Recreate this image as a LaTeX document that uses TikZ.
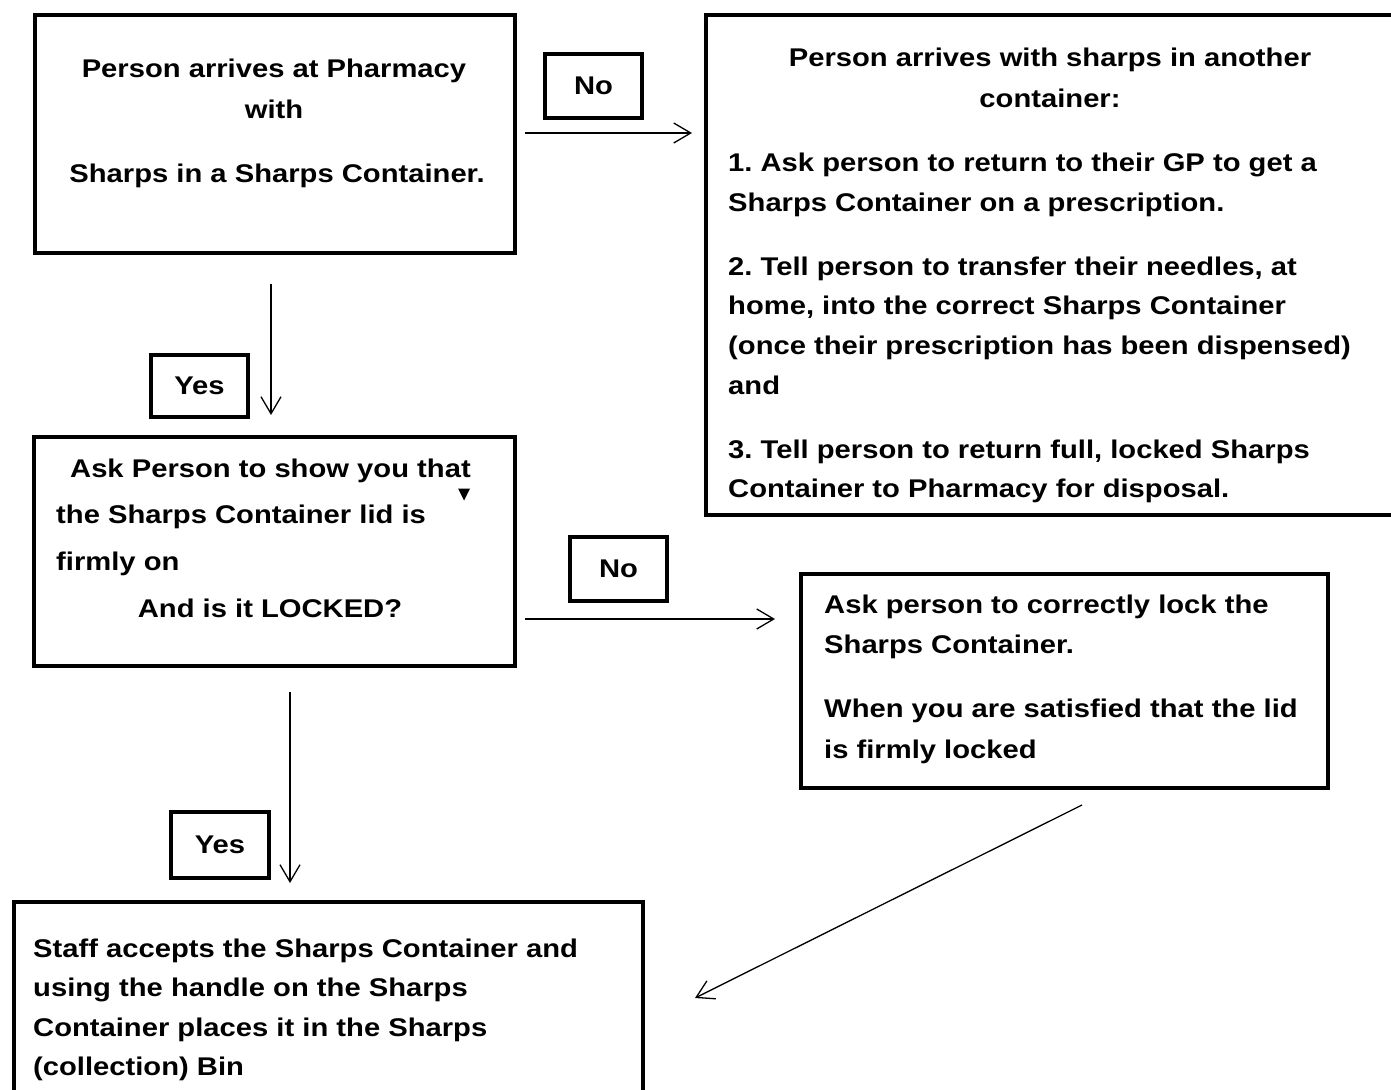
\documentclass[tikz,border=0pt]{standalone}
\usepackage{fontspec}
\setmainfont{Liberation Sans}[FakeStretch=1.14]
\usetikzlibrary{arrows.meta}
\frenchspacing
\begin{document}
\begin{tikzpicture}[x=1pt,y=-1pt,
  box/.style={draw, rectangle, line width=4.2pt, inner sep=0pt},
  lbl/.style={draw, rectangle, line width=4.2pt, inner sep=0pt, font=\fontsize{25.6}{30}\selectfont\bfseries},
  txt/.style={inner sep=0pt, font=\fontsize{25.6}{30}\selectfont\bfseries},
  arr/.style={line width=1.3pt, -{Straight Barb[length=17pt,width=20pt]}}]
\clip (0,0) rectangle (1391,1089);
\fill[white] (0,0) rectangle (1391,1089);
% boxes
\node[box, minimum width=480pt, minimum height=238pt] (A) at (275,134) {};
\node[box, minimum width=694pt, minimum height=500pt] (B) at (1053,265) {};
\node[box, minimum width=481pt, minimum height=229pt] (C) at (274.5,551.5) {};
\node[box, minimum width=527pt, minimum height=214pt] (D) at (1064.5,681) {};
\node[box, minimum width=629pt, minimum height=208pt] (E) at (328.5,1006) {};
% labels
\node[lbl, minimum width=97pt, minimum height=64pt] (no1) at (593.5,86) {No};
\node[lbl, minimum width=97pt, minimum height=62pt] (yes1) at (199.5,386) {Yes};
\node[lbl, minimum width=97pt, minimum height=64pt] (no2) at (618.5,569) {No};
\node[lbl, minimum width=98pt, minimum height=66pt] (yes2) at (220,845) {Yes};
% box A text
\node[txt, anchor=base] (a1) at (274,78) {Person arrives at Pharmacy};
\node[txt, anchor=base] (a2) at (274,118) {with};
\node[txt, anchor=base] (a3) at (277,182) {Sharps in a Sharps Container.};
% box B text
\node[txt, anchor=base] (b1) at (1050,67) {Person arrives with sharps in another};
\node[txt, anchor=base] (b2) at (1050,107) {container:};
\node[txt, anchor=base west] (b3) at (728,171) {1. Ask person to return to their GP to get a};
\node[txt, anchor=base west] (b4) at (728,211) {Sharps Container on a prescription.};
\node[txt, anchor=base west] (b5) at (728,275) {2. Tell person to transfer their needles, at};
\node[txt, anchor=base west] (b6) at (728,314) {home, into the correct Sharps Container};
\node[txt, anchor=base west] (b7) at (728,354) {(once their prescription has been dispensed)};
\node[txt, anchor=base west] (b8) at (728,394) {and};
\node[txt, anchor=base west] (b9) at (728,458) {3. Tell person to return full, locked Sharps};
\node[txt, anchor=base west] (b10) at (728,497) {Container to Pharmacy for disposal.};
% box C text
\node[txt, anchor=base west] (c1) at (70,477) {Ask Person to show you that};
\node[txt, anchor=base west] (c2) at (56,523) {the Sharps Container lid is};
\node[txt, anchor=base west] (c3) at (56,570) {firmly on};
\node[txt, anchor=base] (c4) at (270,617) {And is it LOCKED?};
\fill (458,488.5) -- (470,488.5) -- (464,500.5) -- cycle;
% box D text
\node[txt, anchor=base west] (d1) at (824,613) {Ask person to correctly lock the};
\node[txt, anchor=base west] (d2) at (824,653) {Sharps Container.};
\node[txt, anchor=base west] (d3) at (824,717) {When you are satisfied that the lid};
\node[txt, anchor=base west] (d4) at (824,758) {is firmly locked};
% box E text
\node[txt, anchor=base west] (e1) at (33,957) {Staff accepts the Sharps Container and};
\node[txt, anchor=base west] (e2) at (33,996) {using the handle on the Sharps};
\node[txt, anchor=base west] (e3) at (33,1036) {Container places it in the Sharps};
\node[txt, anchor=base west] (e4) at (33,1075) {(collection) Bin};
% connectors
\coordinate (ab1) at (525,133);
\coordinate (ab2) at (692,133);
\coordinate (ac1) at (271,284);
\coordinate (ac2) at (271,415);
\coordinate (cd1) at (525,619);
\coordinate (cd2) at (775,619);
\coordinate (ce1) at (290,692);
\coordinate (ce2) at (290,883);
\coordinate (de1) at (1082,805);
\coordinate (de2) at (695,998);
\draw[arr] (ab1) -- (ab2);
\draw[arr] (ac1) -- (ac2);
\draw[arr] (cd1) -- (cd2);
\draw[arr] (ce1) -- (ce2);
\draw[arr] (de1) -- (de2);
\end{tikzpicture}
\end{document}
